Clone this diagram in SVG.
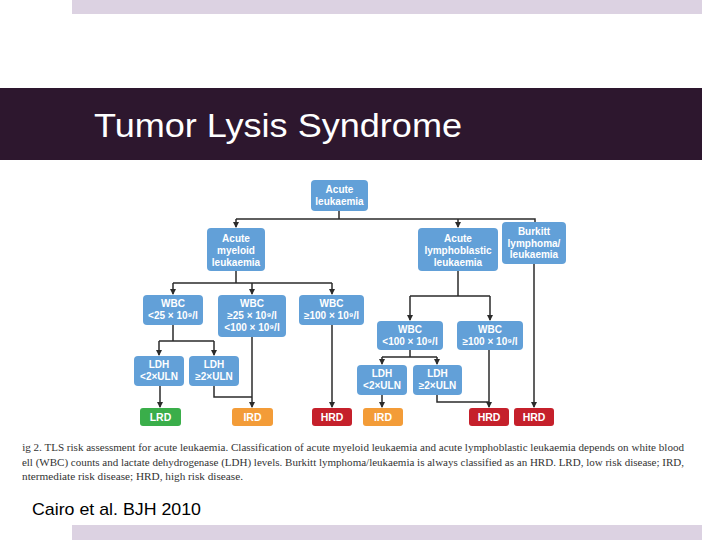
<svg xmlns="http://www.w3.org/2000/svg" width="720" height="540" viewBox="0 0 720 540">
<defs>
<style>
.bar{fill:#dcd2e2}
.node rect{fill:#62a0d8}
.lrd rect{fill:#3aae4a}
.ird rect{fill:#f39c38}
.hrd rect{fill:#c5202b}
.node text,.out text{font-family:"Liberation Sans",Arial,sans-serif;font-weight:bold;font-size:10px;fill:#ffffff;text-anchor:middle}
.out text{font-size:10.5px}
.conn{fill:none;stroke:#2b2b2b;stroke-width:1.5}
.cap{font-family:"Liberation Serif","Times New Roman",serif;font-size:10.6px;fill:#333333}
</style>
<marker id="arr" markerWidth="6" markerHeight="6" refX="5" refY="3" orient="auto" markerUnits="userSpaceOnUse">
<path d="M0,0 L6,3 L0,6 Z" fill="#2b2b2b"/>
</marker>
<clipPath id="capclip"><rect x="22" y="436" width="680" height="50"/></clipPath>
</defs>
<rect width="720" height="540" fill="#ffffff"/>
<rect class="bar" x="72" y="0" width="630" height="14"/>
<rect class="bar" x="72" y="525" width="630" height="15"/>
<rect x="0" y="88" width="702" height="72" fill="#2d172e"/>
<text x="94" y="137" font-family="Liberation Sans,Arial,sans-serif" font-size="34" fill="#ffffff" textLength="368" lengthAdjust="spacingAndGlyphs">Tumor Lysis Syndrome</text>

<g id="connectors">
<path class="conn" d="M339,211 V219 M236,219 H535 V222"/>
<path class="conn" d="M236,219 V227" marker-end="url(#arr)"/>
<path class="conn" d="M458,219 V227" marker-end="url(#arr)"/>
<path class="conn" d="M236,271 V283 M173,283 H332"/>
<path class="conn" d="M173,283 V294" marker-end="url(#arr)"/>
<path class="conn" d="M252,283 V294" marker-end="url(#arr)"/>
<path class="conn" d="M332,283 V294" marker-end="url(#arr)"/>
<path class="conn" d="M173,325 V341 M159,341 H214"/>
<path class="conn" d="M159,341 V355" marker-end="url(#arr)"/>
<path class="conn" d="M214,341 V355" marker-end="url(#arr)"/>
<path class="conn" d="M160,386 V407" marker-end="url(#arr)"/>
<path class="conn" d="M214,386 V397 H252"/>
<path class="conn" d="M252,337 V407" marker-end="url(#arr)"/>
<path class="conn" d="M332,325 V407" marker-end="url(#arr)"/>
<path class="conn" d="M458,271 V296 M410,296 H490"/>
<path class="conn" d="M410,296 V320" marker-end="url(#arr)"/>
<path class="conn" d="M490,296 V320" marker-end="url(#arr)"/>
<path class="conn" d="M410,350 V357 M382,357 H437"/>
<path class="conn" d="M382,357 V364" marker-end="url(#arr)"/>
<path class="conn" d="M437,357 V364" marker-end="url(#arr)"/>
<path class="conn" d="M382,395 V407" marker-end="url(#arr)"/>
<path class="conn" d="M437,395 V402 H489"/>
<path class="conn" d="M489,350 V407" marker-end="url(#arr)"/>
<path class="conn" d="M534,264 V407" marker-end="url(#arr)"/>
</g>

<g id="n-acute" class="node"><rect x="311" y="180" width="57" height="31" rx="4"/><text x="339.5" y="193">Acute</text><text x="339.5" y="205">leukaemia</text></g>
<g id="n-aml" class="node"><rect x="207" y="228" width="58" height="43" rx="4"/><text x="236" y="242">Acute</text><text x="236" y="254">myeloid</text><text x="236" y="266">leukaemia</text></g>
<g id="n-all" class="node"><rect x="418" y="228" width="80" height="43" rx="4"/><text x="458" y="242">Acute</text><text x="458" y="254">lymphoblastic</text><text x="458" y="266">leukaemia</text></g>
<g id="n-burkitt" class="node"><rect x="502" y="222" width="64" height="42" rx="4"/><text x="534" y="235">Burkitt</text><text x="534" y="246.5">lymphoma/</text><text x="534" y="258">leukaemia</text></g>

<g id="n-aml-wbc1" class="node"><rect x="143" y="295" width="60" height="30" rx="4"/><text x="173" y="307">WBC</text><text x="173" y="319">&lt;25 × 10⁹/l</text></g>
<g id="n-aml-wbc2" class="node"><rect x="218" y="295" width="68" height="42" rx="4"/><text x="252" y="307">WBC</text><text x="252" y="319">≥25 × 10⁹/l</text><text x="252" y="331">&lt;100 × 10⁹/l</text></g>
<g id="n-aml-wbc3" class="node"><rect x="299" y="295" width="65" height="30" rx="4"/><text x="331.5" y="307">WBC</text><text x="331.5" y="319">≥100 × 10⁹/l</text></g>

<g id="n-all-wbc1" class="node"><rect x="377" y="321" width="66" height="29" rx="4"/><text x="410" y="333">WBC</text><text x="410" y="345">&lt;100 × 10⁹/l</text></g>
<g id="n-all-wbc2" class="node"><rect x="457" y="321" width="66" height="29" rx="4"/><text x="490" y="333">WBC</text><text x="490" y="345">≥100 × 10⁹/l</text></g>

<g id="n-aml-ldh1" class="node"><rect x="134" y="356" width="50" height="30" rx="4"/><text x="159" y="368">LDH</text><text x="159" y="380">&lt;2×ULN</text></g>
<g id="n-aml-ldh2" class="node"><rect x="189" y="356" width="50" height="30" rx="4"/><text x="214" y="368">LDH</text><text x="214" y="380">≥2×ULN</text></g>
<g id="n-all-ldh1" class="node"><rect x="357" y="365" width="50" height="30" rx="4"/><text x="382" y="377">LDH</text><text x="382" y="389">&lt;2×ULN</text></g>
<g id="n-all-ldh2" class="node"><rect x="413" y="365" width="49" height="30" rx="4"/><text x="437.5" y="377">LDH</text><text x="437.5" y="389">≥2×ULN</text></g>

<g id="o-lrd" class="out lrd"><rect x="140" y="408" width="41" height="18" rx="3"/><text x="160.5" y="421">LRD</text></g>
<g id="o-ird1" class="out ird"><rect x="232" y="408" width="41" height="18" rx="3"/><text x="252.5" y="421">IRD</text></g>
<g id="o-hrd1" class="out hrd"><rect x="312" y="408" width="40" height="18" rx="3"/><text x="332" y="421">HRD</text></g>
<g id="o-ird2" class="out ird"><rect x="363" y="408" width="40" height="18" rx="3"/><text x="383" y="421">IRD</text></g>
<g id="o-hrd2" class="out hrd"><rect x="469" y="408" width="40" height="18" rx="3"/><text x="489" y="421">HRD</text></g>
<g id="o-hrd3" class="out hrd"><rect x="514" y="408" width="40" height="18" rx="3"/><text x="534" y="421">HRD</text></g>

<g clip-path="url(#capclip)">
<text class="cap" x="16" y="451" textLength="668" lengthAdjust="spacingAndGlyphs">Fig 2.  TLS risk assessment for acute leukaemia. Classification of acute myeloid leukaemia and acute lymphoblastic leukaemia depends on white blood</text>
<text class="cap" x="17" y="466" textLength="667" lengthAdjust="spacingAndGlyphs">cell (WBC) counts and lactate dehydrogenase (LDH) levels. Burkitt lymphoma/leukaemia is always classified as an HRD. LRD, low risk disease; IRD,</text>
<text class="cap" x="19" y="480" textLength="224" lengthAdjust="spacingAndGlyphs">intermediate risk disease; HRD, high risk disease.</text>
</g>
<text x="32" y="515" font-family="Liberation Sans,Arial,sans-serif" font-size="17" fill="#000000" textLength="169" lengthAdjust="spacingAndGlyphs">Cairo et al. BJH 2010</text>
</svg>
